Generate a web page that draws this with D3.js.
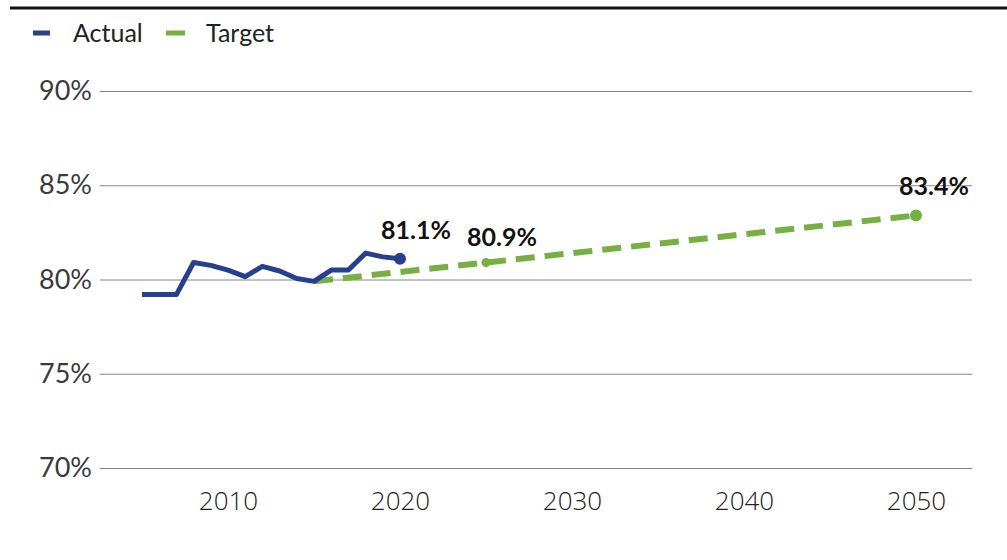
<!DOCTYPE html>
<html>
<head>
<meta charset="utf-8">
<script src="https://cdn.jsdelivr.net/npm/d3@7"></script>
<style>
  body { margin: 0; background: #fff; }
  svg { display: block; }
</style>
</head>
<body>
<div id="chart"></div>
<script>
const actualYears = [2005, 2006, 2007, 2008, 2009, 2010, 2011, 2012, 2013, 2014, 2015, 2016, 2017, 2018, 2019, 2020];
const actualValues = [79.2, 79.2, 79.2, 80.9, 80.75, 80.5, 80.15, 80.7, 80.45, 80.05, 79.9, 80.5, 80.5, 81.4, 81.2, 81.1];
const targetYears = [2015, 2025, 2050];
const targetValues = [79.9, 80.9, 83.4];
const yTicks = [70, 75, 80, 85, 90];
const xTicks = [2010, 2020, 2030, 2040, 2050];
const labels = [
  {year: 2020, value: 81.1, text: "81.1%", dx: 16, dy: -20},
  {year: 2025, value: 80.9, text: "80.9%", dx: 16, dy: -17},
  {year: 2050, value: 83.4, text: "83.4%", dx: 18, dy: -20}
];

const width = 1007, height = 560;
const svg = d3.select("#chart").append("svg")
    .attr("width", width)
    .attr("height", height);

const x = d3.scaleLinear().domain([2005, 2050]).range([142, 916]);
const y = d3.scaleLinear().domain([70, 90]).range([468, 91]);

// top rule
svg.append("line")
    .attr("x1", 10).attr("x2", width)
    .attr("y1", 8).attr("y2", 8)
    .attr("stroke", "#111").attr("stroke-width", 3);

// legend
const legend = svg.append("g").attr("font-family", "Lato, sans-serif").attr("font-size", 25).attr("fill", "#222");
legend.append("line").attr("x1", 33).attr("x2", 50).attr("y1", 33).attr("y2", 33)
    .attr("stroke", "#26408f").attr("stroke-width", 5);
legend.append("text").attr("x", 73).attr("y", 42).text("Actual");
legend.append("line").attr("x1", 166).attr("x2", 185).attr("y1", 33).attr("y2", 33)
    .attr("stroke", "#76b043").attr("stroke-width", 5);
legend.append("text").attr("x", 206).attr("y", 42).text("Target");

// y grid + labels
const yAxis = d3.axisLeft(y).tickValues(yTicks).tickSize(-872).tickFormat(d => d + "%").tickPadding(8);
const gy = svg.append("g").attr("transform", "translate(100,0)").call(yAxis);
gy.select(".domain").remove();
gy.selectAll(".tick line").attr("stroke", "#888").attr("stroke-width", 1);
gy.selectAll(".tick text")
    .attr("font-family", "Lato, sans-serif")
    .attr("font-size", 27)
    .attr("fill", "#3a3a3a")
    .attr("x", -8);

// x labels
const xAxis = d3.axisBottom(x).tickValues(xTicks).tickSize(0).tickFormat(d3.format("d")).tickPadding(0);
const gx = svg.append("g").attr("transform", "translate(0,490)").call(xAxis);
gx.select(".domain").remove();
gx.selectAll(".tick text")
    .attr("font-family", "Open Sans, sans-serif")
    .attr("font-weight", 300)
    .attr("font-size", 26)
    .attr("fill", "#222")
    .attr("dy", "0.78em");

const line = d3.line().x(d => x(d[0])).y(d => y(d[1]));

// target
const targetData = targetYears.map((d, i) => [d, targetValues[i]]);
svg.append("path")
    .datum(targetData)
    .attr("d", line)
    .attr("fill", "none")
    .attr("stroke", "#76b043")
    .attr("stroke-width", 6)
    .attr("stroke-dasharray", "19,10");
svg.append("circle")
    .attr("cx", x(2025)).attr("cy", y(80.9)).attr("r", 4.5).attr("fill", "#76b043");
svg.append("circle")
    .attr("cx", x(2050)).attr("cy", y(83.4)).attr("r", 6).attr("fill", "#76b043");

// actual
const actualData = actualYears.map((d, i) => [d, actualValues[i]]);
svg.append("path")
    .datum(actualData)
    .attr("d", line)
    .attr("fill", "none")
    .attr("stroke", "#26408f")
    .attr("stroke-width", 5)
    .attr("stroke-linejoin", "round");
svg.append("circle")
    .attr("cx", x(2020)).attr("cy", y(81.1)).attr("r", 6).attr("fill", "#26408f");

// value labels
svg.append("g").selectAll("text")
    .data(labels)
    .join("text")
    .attr("x", d => x(d.year) + d.dx)
    .attr("y", d => y(d.value) + d.dy)
    .attr("text-anchor", "middle")
    .attr("font-family", "Lato, sans-serif")
    .attr("font-weight", 700)
    .attr("font-size", 25)
    .attr("fill", "#111")
    .text(d => d.text);
</script>
</body>
</html>
